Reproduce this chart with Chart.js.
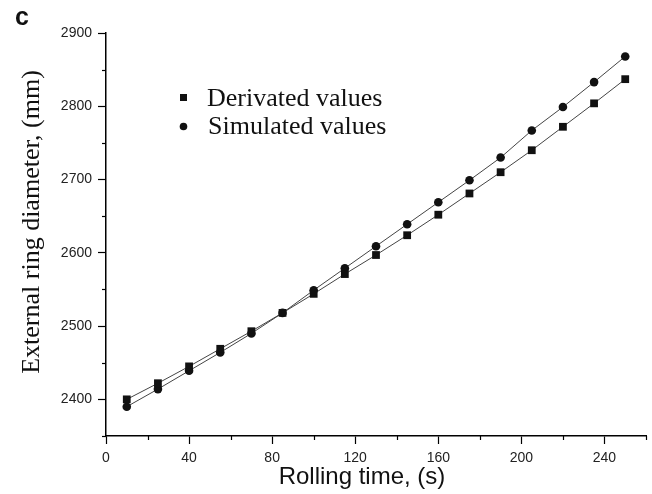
<!DOCTYPE html>
<html>
<head>
<meta charset="utf-8">
<script src="https://cdn.jsdelivr.net/npm/chart.js@4/dist/chart.umd.min.js"></script>
<style>
body{margin:0;background:#fff}
</style>
</head>
<body>
<canvas id="ringChart" width="652" height="494"></canvas>
<script>
const times = [10,25,40,55,70,85,100,115,130,145,160,175,190,205,220,235,250]
const derivated = [2400,2422,2445,2469,2493,2518,2544,2571,2597,2624,2652,2681,2710,2740,2772,2804,2837]
const simulated = [2390,2414,2439,2464,2490,2518,2549,2579,2609,2639,2669,2699,2730,2767,2799,2833,2868]

const toPts = vals => vals.map((v,i)=>({x:times[i], y:v}))

// minor ticks, titles, legend drawn by hand
const extras = {
id:"extras",
afterDraw(chart){
const c = chart.ctx
const xs = chart.scales.x, ys = chart.scales.y
const ca = chart.chartArea
c.save()
c.strokeStyle = "#000"
c.lineWidth = 1.2
for(let v=20; v<=260; v+=40){
const px = Math.round(xs.getPixelForValue(v))+0.5
c.beginPath(); c.moveTo(px, ca.bottom); c.lineTo(px, ca.bottom+4); c.stroke()
}
for(let v=2350; v<=2850; v+=100){
const py = Math.round(ys.getPixelForValue(v))+0.5
c.beginPath(); c.moveTo(ca.left, py); c.lineTo(ca.left-4, py); c.stroke()
}

c.fillStyle = "#111"
c.font = "24px 'Liberation Sans', Arial"
c.textAlign = "center"
c.textBaseline = "middle"
c.fillText("Rolling time, (s)", 362, 477)

c.save()
c.translate(32, 222)
c.rotate(-Math.PI/2)
c.font = "26px 'Liberation Serif', 'Times New Roman'"
c.fillText("External ring diameter, (mm)", 0, 0)
c.restore()

c.textAlign = "left"
c.textBaseline = "alphabetic"
c.font = "bold 25px 'Liberation Sans', Arial"
c.fillText("c", 15, 25)

c.font = "26px 'Liberation Serif', 'Times New Roman'"
c.fillText("Derivated values", 207, 106)
c.fillText("Simulated values", 208, 134)
c.fillRect(180, 94, 7, 7)
c.beginPath(); c.arc(183.5, 126.5, 3.8, 0, Math.PI*2); c.fill()
c.restore()
}
}

const tickFont = {family:"'Liberation Sans', Arial", size:14}

new Chart(document.getElementById("ringChart"),{
type:"scatter",
data:{
datasets:[
{
label:"Derivated values",
data:toPts(derivated),
showLine:true,
borderColor:"#444",
borderWidth:1,
backgroundColor:"#111",
pointStyle:"rect",
pointRadius:5.5,
pointBorderWidth:0,
clip:false
},
{
label:"Simulated values",
data:toPts(simulated),
showLine:true,
borderColor:"#444",
borderWidth:1,
backgroundColor:"#111",
pointStyle:"circle",
pointRadius:4.3,
pointBorderWidth:0,
clip:false
}
]
},
options:{
responsive:false,
animation:false,
layout:{padding:{top:33,right:5,left:0,bottom:0}},
plugins:{legend:{display:false},tooltip:{enabled:false}},
scales:{
x:{
type:"linear",
min:0, max:260,
border:{color:"#000", width:1.5},
grid:{drawOnChartArea:false, drawTicks:true, tickLength:8,
tickColor:c=> c.tick && c.tick.value%40===0 ? "#000" : "rgba(0,0,0,0)", tickWidth:1.2},
ticks:{stepSize:20, autoSkip:false, maxRotation:0, padding:6, color:"#222", font:tickFont,
callback:v=> v%40===0 ? v : ""},
afterFit:s=>{s.height = 58}
},
y:{
type:"linear",
min:2350, max:2900,
border:{color:"#000", width:1.5},
grid:{drawOnChartArea:false, drawTicks:true, tickLength:8,
tickColor:c=> c.tick && c.tick.value%100===0 ? "#000" : "rgba(0,0,0,0)", tickWidth:1.2},
ticks:{stepSize:50, autoSkip:false, padding:6, color:"#222", font:tickFont,
callback:v=> v%100===0 ? v : ""},
afterFit:s=>{s.width = 106}
}
}
},
plugins:[extras]
})
</script>
</body>
</html>
